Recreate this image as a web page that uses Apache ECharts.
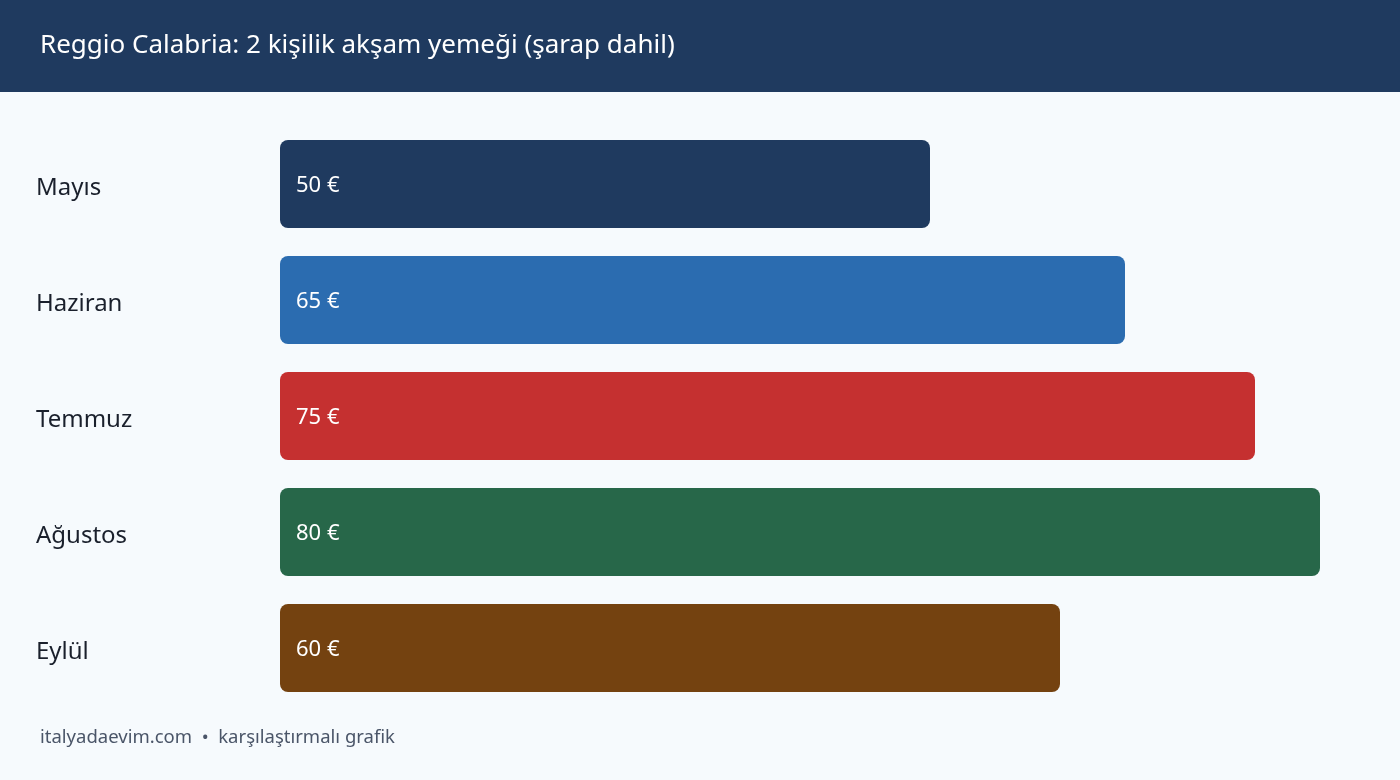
<!DOCTYPE html>
<html lang="tr">
<head>
    <meta charset="utf-8">
    <title>Reggio Calabria: 2 kişilik akşam yemeği</title>
    <script src="https://cdn.jsdelivr.net/npm/echarts@6/dist/echarts.min.js"></script>
    <style>
        html, body { margin: 0; padding: 0; background: #f6fafd; }
        #chart { width: 1400px; height: 780px; }
    </style>
</head>
<body>
    <div id="chart"></div>
    <script>
        // veriler
        var months = ['Mayıs', 'Haziran', 'Temmuz', 'Ağustos', 'Eylül'];
        var prices = [50, 65, 75, 80, 60];
        var barColors = ['#1f3a5f', '#2b6cb0', '#c53030', '#276749', '#744210'];

        var font = '"Noto Sans", "Open Sans", sans-serif';

        var chart = echarts.init(document.getElementById('chart'));
        chart.setOption({
            backgroundColor: '#f6fafd',
            animation: false,
            textStyle: { fontFamily: font },
            graphic: [
                {
                    type: 'rect',
                    shape: { x: 0, y: 0, width: 1400, height: 92 },
                    style: { fill: '#1f3a5f' }
                },
                {
                    type: 'text',
                    left: 40, top: 33,
                    style: {
                        text: 'Reggio Calabria: 2 kişilik akşam yemeği (şarap dahil)',
                        fill: '#ffffff',
                        font: '26px ' + font
                    }
                },
                {
                    type: 'text',
                    left: 40, top: 728,
                    style: {
                        text: 'italyadaevim.com  •  karşılaştırmalı grafik',
                        fill: '#4a5568',
                        font: '18.5px ' + font
                    }
                }
            ],
            grid: { left: 280, right: 80, top: 126, bottom: 74 },
            xAxis: {
                type: 'value', min: 0, max: 80,
                show: false
            },
            yAxis: {
                type: 'category',
                data: months,
                inverse: true,
                axisLine: { show: false },
                axisTick: { show: false },
                axisLabel: {
                    align: 'left',
                    margin: 244,
                    formatter: '{m|{value}}',
                    rich: {
                        m: {
                            fontSize: 24,
                            padding: [8, 0, 0, 0],
                            color: '#1a202c',
                            fontFamily: font
                        }
                    }
                }
            },
            series: [{
                type: 'bar',
                barWidth: 88,
                data: prices.map(function (v, i) {
                    return { value: v, itemStyle: { color: barColors[i] } };
                }),
                itemStyle: { borderRadius: 8 },
                label: {
                    show: true,
                    position: 'insideLeft',
                    distance: 16,
                    offset: [0, 2],
                    formatter: '{c} €',
                    color: '#ffffff',
                    fontSize: 22,
                    fontFamily: font
                }
            }]
        });
    </script>
</body>
</html>
